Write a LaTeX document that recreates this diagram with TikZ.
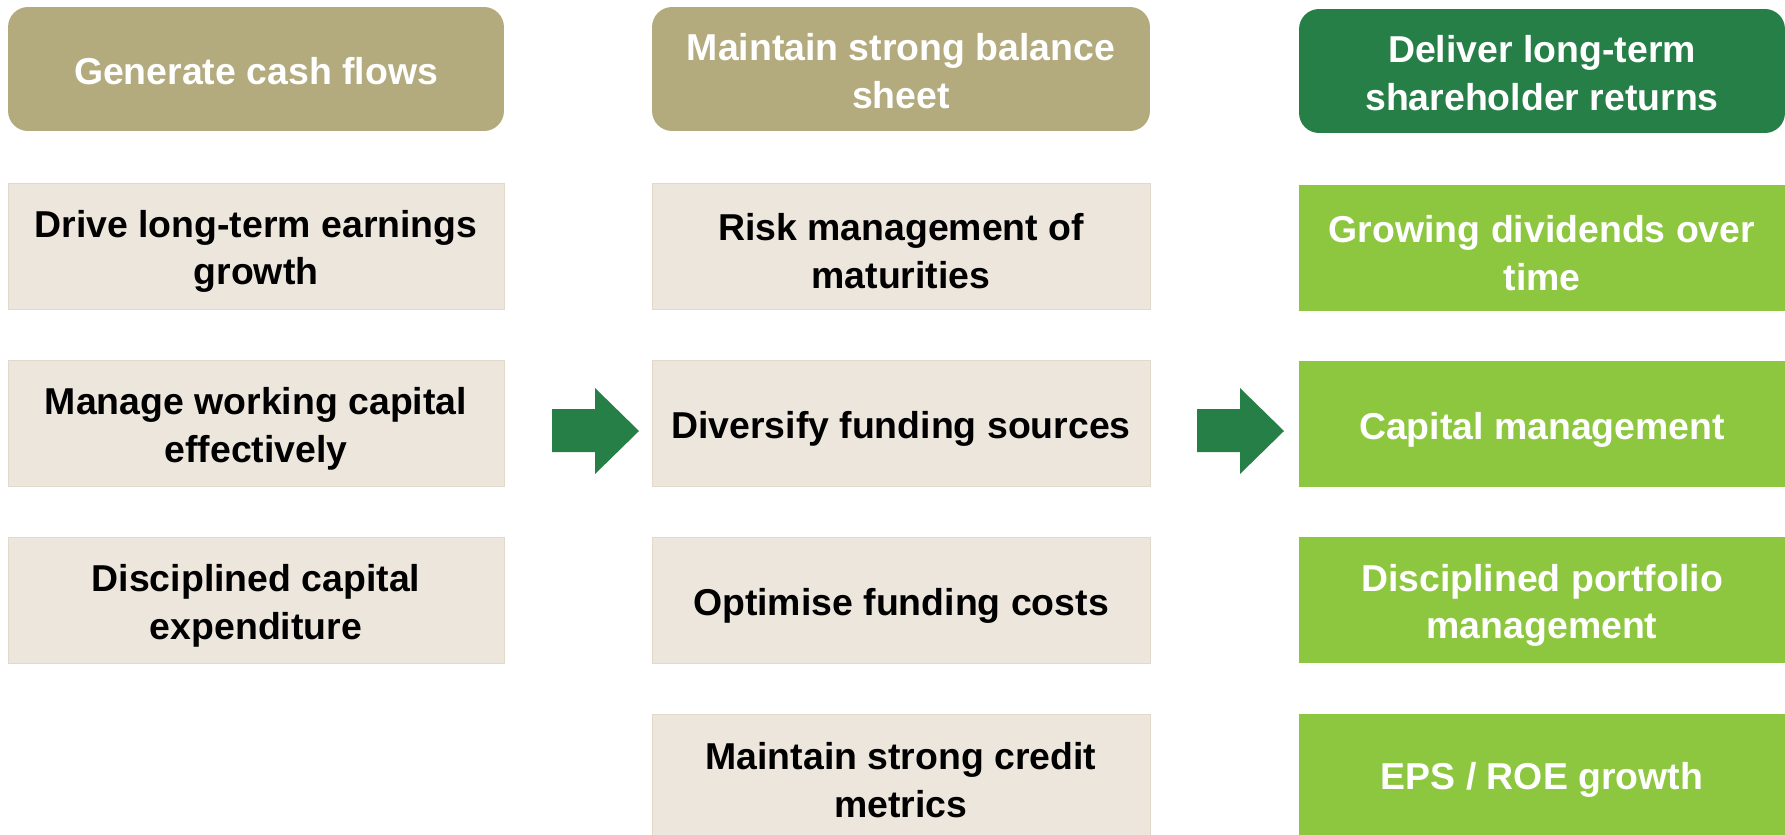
\documentclass[tikz,border=0pt]{standalone}
\usepackage{fontspec}
\setmainfont{Liberation Sans}
\usetikzlibrary{positioning}
\definecolor{headtan}{HTML}{B3AA7E}
\definecolor{boxbeige}{HTML}{EDE6DD}
\definecolor{boxedge}{HTML}{E2D9CB}
\definecolor{darkgreen}{HTML}{267F47}
\definecolor{lightgreen}{HTML}{8DC63F}
\newcommand{\boxstrut}{\rule{0pt}{0.76cm}} % sets the text a bit low in its box
\newcommand{\headstrut}{\rule{0pt}{0.64cm}}
\tikzset{
        every node/.style={font=\bfseries\fontsize{21.3}{27.2}\selectfont, align=center, inner sep=0pt}, % all texts bold sans
        headbox/.style={rounded corners=0.4cm, fill=headtan, text=white, minimum height=2.48cm},
        itembox/.style={fill=boxbeige, draw=boxedge, line width=0.5pt, minimum height=2.52cm},
        goalbox/.style={fill=lightgreen, text=white, minimum height=2.52cm},
        colA/.style={minimum width=9.92cm},
        colB/.style={minimum width=9.96cm},
        colC/.style={minimum width=9.72cm},
}
\begin{document}
\begin{tikzpicture}[x=0.02cm,y=-0.02cm]
\useasboundingbox (0,0) rectangle (1785,835);

% headers
\node[headbox,colA] (cash) at (256,69) {\headstrut Generate cash flows};
\node[headbox,colB] (sheet) at (901,69) {\headstrut Maintain strong balance\\sheet};
\node[headbox,colC,fill=darkgreen] (returns) at (1542,71) {\headstrut Deliver long-term\\shareholder returns};

% first column
\node[itembox,colA] (earn) at (256,246) {\boxstrut Drive long-term earnings\\growth};
\node[itembox,colA] (work) at (256,423) {\boxstrut Manage working capital\\effectively};
\node[itembox,colA] (capex) at (256,600) {\boxstrut Disciplined capital\\expenditure};

% second column
\node[itembox,colB] (matur) at (901,246) {\boxstrut Risk management of\\maturities};
\node[itembox,colB] (divers) at (901,423) {\boxstrut Diversify funding sources};
\node[itembox,colB] (costs) at (901,600) {\boxstrut Optimise funding costs};
\node[itembox,colB,minimum height=2.42cm] (credit) at (901,774.5) {\boxstrut Maintain strong credit\\metrics};

% third column
\node[goalbox,colC] (divid) at (1542,248) {\boxstrut Growing dividends over\\time};
\node[goalbox,colC] (capman) at (1542,424) {\boxstrut Capital management};
\node[goalbox,colC] (port) at (1542,600) {\boxstrut Disciplined portfolio\\management};
\node[goalbox,colC,minimum height=2.42cm] (eps) at (1542,774.5) {\boxstrut EPS / ROE growth};

% block arrows
\foreach \x in {552,1197}
  \fill[darkgreen] (\x,409) -- (\x+43,409) -- (\x+43,388) -- (\x+87,431)
        -- (\x+43,474) -- (\x+43,452) -- (\x,452) -- cycle;
\end{tikzpicture}
\end{document}
